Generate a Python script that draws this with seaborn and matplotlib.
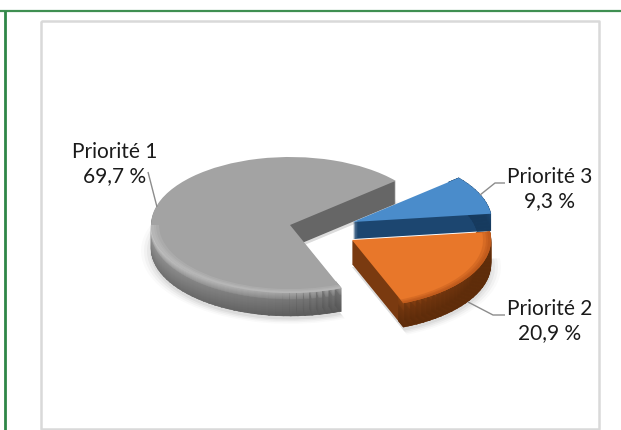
import numpy as np
import matplotlib
matplotlib.use("Agg")
import matplotlib.pyplot as plt
from matplotlib.patches import Wedge
import seaborn as sns

labels = ["Priorité 1", "Priorité 2", "Priorité 3"]
values = [69.7, 20.9, 9.3]
value_text = ["69,7 %", "20,9 %", "9,3 %"]

sns.set_theme(style="white")
plt.rcParams["font.family"] = ["Lato", "DejaVu Sans"]

W, H = 621, 430
RX, RY = 139.0, 68.0
SY = RX / RY
START = 40.5  # angle where the first slice begins

top_cols = ["#a3a3a3", "#e8772a", "#4a8ccb"]
cut_cols = ["#666666", "#7a3a10", "#1c4670"]
rim_cols = {0: ("#cfcfcf", "#a2a2a2", "#767676"),
            1: ("#8a4312", "#7a3a10", "#5e2c0a"),
            2: ("#1c4670", "#1c4670", "#163a5e")}
centers = [(290, 225), (352, 240), (353, 222)]
depths = [23, 24, 17]
label_pos = [(115, 164), (550, 321), (550, 189)]
leaders = [[(148, 172), (157, 207)],
           [(468, 302), (493, 315), (505, 315)],
           [(480, 195), (495, 183), (505, 183)]]

fig = plt.figure(figsize=(W / 100, H / 100), dpi=100, facecolor="white")
ax = fig.add_axes([0, 0, 1, 1])


def py(y):
    return (H - y) * SY


def mix(a, b, t):
    a, b = np.array(matplotlib.colors.to_rgb(a)), np.array(matplotlib.colors.to_rgb(b))
    return tuple(a + (b - a) * t)


total = sum(values)
spans = [v / total * 360 for v in values]
ranges = []
a = START
for s in spans:
    ranges.append((a, a + s))
    a += s

# soft shadow below the pie
for grow, alpha in zip([10, 7, 4, 1], [0.02, 0.03, 0.04, 0.05]):
    for i in [0, 1]:
        cx, cy = centers[i]
        t1, t2 = ranges[i]
        ax.add_patch(Wedge((cx, py(cy + depths[i] + 3)), RX + grow, t1, t2,
                           fc="black", ec="none", alpha=alpha, zorder=1))

for i in [0, 2, 1]:
    cx, cy = centers[i]
    t1, t2 = ranges[i]
    d = depths[i]
    # solid body (shows as the cut faces)
    for k in range(d, 0, -1):
        ax.add_patch(Wedge((cx, py(cy + k)), RX, t1, t2, fc=cut_cols[i], ec="none", zorder=2))
    # rim with shading, front part only
    r1, r2 = max(t1, 180) if i == 0 else t1, t2
    steps = np.arange(r1, r2, 3.0)
    for th in steps:
        frac = (th - r1) / max(r2 - r1, 1)
        for k in range(d, -1, -1):
            v = k / d
            base_top, base_mid, base_low = rim_cols[i]
            c = mix(base_mid, base_low, v) if v > 0.3 else mix(base_top, base_mid, v / 0.3)
            c = mix(c, "#000000", 0.25 * frac) if i == 0 else c
            ax.add_patch(Wedge((cx, py(cy + k)), RX, th, min(th + 3.6, r2), width=14,
                               fc=c, ec=c, lw=0.3, zorder=2))
    # top face through the pie call
    ax.pie([values[i], total - values[i]], startangle=t1, counterclock=True,
           colors=[top_cols[i], "none"], center=(cx, py(cy)), radius=RX,
           wedgeprops={"linewidth": 0, "zorder": 2})
    # bevel towards the rim on the front
    shade = {0: "#bcbcbc", 1: "#b9561a", 2: "#4a8ccb"}[i]
    if i != 2:
        for w, al in zip([8, 5, 3], [0.35, 0.4, 0.5]):
            ax.add_patch(Wedge((cx, py(cy)), RX, r1, r2, width=w, fc=shade, ec="none", alpha=al, zorder=2))

ax.set_aspect("auto")
ax.set_xlim(0, W)
ax.set_ylim(0, H * SY)
ax.set_xticks([])
ax.set_yticks([])
ax.set_frame_on(False)


def line(xs, ys, **kw):
    ax.plot(xs, [py(y) for y in ys], solid_capstyle="butt", **kw)


# page rules and chart frame
line([0, W], [11, 11], color="#3f8f52", lw=1.6)
line([5, 5], [11, H], color="#2f8647", lw=2.0)
line([41, 599, 599, 41, 41], [21, 21, 429, 429, 21], color="#d9d9d9", lw=1.8)

for name, val, (x, y), pts in zip(labels, value_text, label_pos, leaders):
    line([p[0] for p in pts], [p[1] for p in pts], color="#8c8c8c", lw=1.0, zorder=5)
    ax.text(x, py(y), f"{name}\n{val}", ha="center", va="center", fontsize=15,
            color="#1a1a1a", linespacing=1.2, zorder=6)

fig.savefig("out.png", dpi=100)
